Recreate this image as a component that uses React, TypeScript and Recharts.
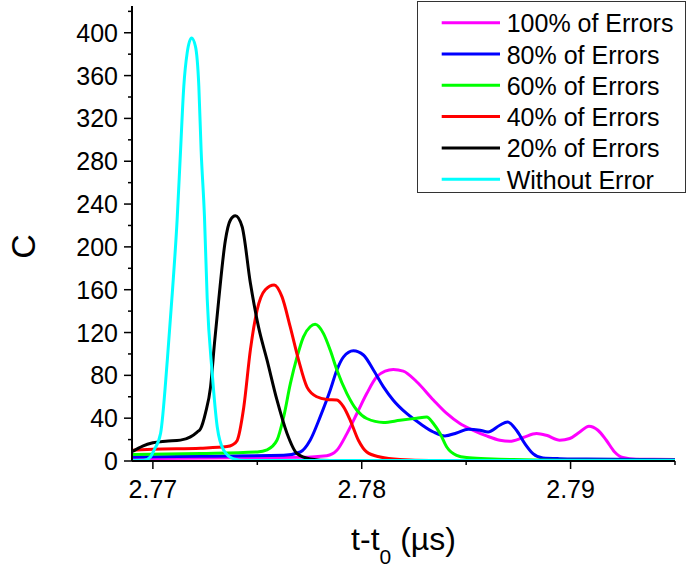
import React from 'react';
import { LineChart, Line, XAxis, YAxis, Legend } from 'recharts';

const FONT = '"Liberation Sans", Arial, Helvetica, sans-serif';

const seriesNames = ['100% of Errors', '80% of Errors', '60% of Errors', '40% of Errors', '20% of Errors', 'Without Error'];
const seriesColors = ['#FF00FF', '#0000FF', '#00FF00', '#FF0000', '#000000', '#00FFFF'];
const xTicks = [2.77, 2.775, 2.78, 2.785, 2.79, 2.795];
const yTicks = [0, 20, 40, 60, 80, 100, 120, 140, 160, 180, 200, 220, 240, 260, 280, 300, 320, 340, 360, 380, 400, 420];

const errors100: [number, number][] = [
  [2.76903, 2.2], [2.77706, 3.5], [2.77833, 5], [2.77881, 10], [2.77929, 25.6], [2.77977, 44.4],
  [2.78024, 63], [2.78072, 78.6], [2.78112, 84], [2.78151, 85.5], [2.78199, 84], [2.78263, 74],
  [2.78343, 57], [2.78407, 44.4], [2.7847, 35], [2.78534, 28.7], [2.78598, 23.4], [2.78661, 19.4],
  [2.78709, 18.4], [2.78773, 21.9], [2.78837, 25.6], [2.78884, 24], [2.78948, 19.4], [2.78996, 21],
  [2.79044, 27.1], [2.79088, 32.5], [2.79131, 28.7], [2.79171, 19.4], [2.79211, 8.4], [2.7925, 3.2],
  [2.79314, 1.6], [2.795, 1.5],
];

const errors80: [number, number][] = [
  [2.76903, 3.7], [2.77228, 4.5], [2.77626, 5.3], [2.77706, 8.4], [2.77753, 19.4], [2.77801, 41.2],
  [2.77849, 66], [2.77881, 85], [2.77913, 97.3], [2.7796, 103], [2.78008, 99], [2.78056, 85],
  [2.78104, 69.3], [2.78151, 56.8], [2.78215, 44.4], [2.78279, 35], [2.78343, 27.1], [2.78398, 23.4],
  [2.78454, 26.2], [2.7851, 29.7], [2.78566, 28.7], [2.78605, 27.1], [2.78661, 33.4], [2.78698, 36.5],
  [2.78741, 28.7], [2.78781, 16.3], [2.7882, 6.9], [2.78868, 2.8], [2.78948, 2.2], [2.79076, 1.9],
  [2.795, 1.2],
];

const errors60: [number, number][] = [
  [2.76903, 6], [2.77228, 7], [2.775, 8.5], [2.77547, 10.5], [2.77594, 19.4], [2.77626, 41],
  [2.77658, 72], [2.7769, 97], [2.77721, 116], [2.77753, 125.4], [2.77777, 127.7], [2.77817, 119],
  [2.77849, 103.6], [2.77881, 85], [2.77929, 63], [2.77977, 47.4], [2.78024, 39.7], [2.78104, 36],
  [2.78183, 38], [2.78263, 40], [2.78311, 41.2], [2.78343, 35], [2.78375, 25.6], [2.78407, 13.1],
  [2.78454, 5.3], [2.78502, 3.2], [2.78598, 2.2], [2.78725, 1.3], [2.78948, 0.8], [2.795, 0.7],
];

const errors40: [number, number][] = [
  [2.76903, 10], [2.77, 11], [2.77228, 12], [2.77355, 13.5], [2.7738, 15], [2.77403, 19],
  [2.77435, 50], [2.77467, 104], [2.77499, 141], [2.77538, 160], [2.77581, 164.5], [2.77618, 153.5],
  [2.77658, 125], [2.77698, 94], [2.77738, 69], [2.77785, 60], [2.77833, 57.5], [2.77881, 57],
  [2.77913, 50.5], [2.77945, 38], [2.77984, 19.4], [2.78024, 8.4], [2.78088, 3.7], [2.78183, 1.3],
  [2.78327, 0.5], [2.795, 0.5],
];

const errors20: [number, number][] = [
  [2.76903, 9], [2.76951, 14], [2.77, 17], [2.77061, 18.5], [2.77132, 19.5], [2.7718, 22.5],
  [2.77212, 27], [2.77228, 30], [2.77252, 45], [2.77276, 69], [2.77295, 110], [2.77315, 150],
  [2.77347, 206], [2.77371, 225], [2.77395, 229], [2.77427, 219], [2.77467, 166], [2.77506, 125],
  [2.77547, 94], [2.77594, 57], [2.77642, 26], [2.7769, 7], [2.77753, 2], [2.77849, 0.5], [2.795, 0.5],
];

const withoutError: [number, number][] = [
  [2.76903, 0.5], [2.76957, 0.6], [2.76989, 4], [2.77005, 10], [2.77037, 26], [2.77069, 94],
  [2.77093, 157], [2.77116, 225], [2.77132, 288], [2.77148, 350], [2.77164, 381], [2.77185, 395],
  [2.77204, 387], [2.7722, 350], [2.77231, 290], [2.77247, 228], [2.7726, 152], [2.77284, 82],
  [2.77308, 32], [2.77339, 10], [2.77387, 2], [2.77443, 0.5], [2.795, 0.5],
];

const seriesPoints = [errors100, errors80, errors60, errors40, errors20, withoutError];
const toRows = (pts: [number, number][]) => pts.map(([t, c]) => ({ t, c }));

const YTick = (props: any) => {
  const { x, y, payload } = props;
  const v = payload.value as number;
  const axisX = x + 8 + 6;
  const major = Math.round(v) % 40 === 0;
  return (
    <g>
      <line x1={axisX - (major ? 8 : 4)} x2={axisX} y1={y} y2={y} stroke="#000" strokeWidth={1.5} />
      {major && (
        <text x={x} y={y + 9} textAnchor="end" fontSize={25} fontFamily={FONT} fill="#000">
          {v}
        </text>
      )}
    </g>
  );
};

const XTick = (props: any) => {
  const { x, y, payload } = props;
  const v = payload.value as number;
  const axisY = y - 8 - 8;
  const major = Math.round(v * 1000) % 10 === 0;
  return (
    <g>
      <line x1={x} x2={x} y1={axisY} y2={axisY + (major ? 8 : 4)} stroke="#000" strokeWidth={1.5} />
      {major && (
        <text x={x} y={axisY + 36.5} textAnchor="middle" fontSize={25} fontFamily={FONT} fill="#000">
          {v.toFixed(2)}
        </text>
      )}
    </g>
  );
};

const YTitle = (props: any) => {
  const vb = props.viewBox || { x: 0, y: 6, width: 132, height: 455 };
  const cx = vb.x + 22.5;
  const cy = vb.y + vb.height / 2 + 13;
  return (
    <text x={cx} y={cy} dy="0.358em" textAnchor="middle" fontSize={34} fontFamily={FONT} fill="#000"
      transform={`rotate(-90 ${cx} ${cy})`}>
      C
    </text>
  );
};

const XTitle = (props: any) => {
  const vb = props.viewBox || { x: 132, y: 461, width: 543, height: 110 };
  const cx = vb.x + vb.width / 2;
  const by = vb.y + 89;
  return (
    <text x={cx} y={by} textAnchor="middle" fontSize={32} fontFamily={FONT} fill="#000">
      t-t<tspan fontSize={21} dy={14}>0</tspan><tspan dy={-14}>{' (µs)'}</tspan>
    </text>
  );
};

const LegendBox = () => (
  <svg width={269} height={192} style={{ display: 'block' }}>
    <rect x={0.5} y={0.5} width={268} height={191} fill="#fff" stroke="#333" strokeWidth={1} />
    {seriesNames.map((n, i) => {
      const cy = 21.7 + i * 31.3;
      return (
        <g key={n}>
          <line x1={24.7} x2={83} y1={cy} y2={cy} stroke={seriesColors[i]} strokeWidth={3} />
          <text x={89.7} y={cy + 9.5} fontSize={25} fontFamily={FONT} fill="#000">{n}</text>
        </g>
      );
    })}
  </svg>
);

export default function App() {
  return (
    <div style={{ position: 'absolute', left: 0, top: 0, width: 687, height: 571, background: '#fff' }}>
      <LineChart width={687} height={571} margin={{ top: 6, right: 12, left: 0, bottom: 0 }}>
        <XAxis
          type="number"
          dataKey="t"
          domain={[2.769, 2.795]}
          ticks={xTicks}
          interval={0}
          allowDataOverflow
          height={110}
          tickSize={8}
          tickMargin={8}
          tickLine={false}
          axisLine={{ stroke: '#000', strokeWidth: 2 }}
          tick={<XTick />}
          label={<XTitle />}
        />
        <YAxis
          type="number"
          dataKey="c"
          domain={[0, 425]}
          ticks={yTicks}
          interval={0}
          allowDataOverflow
          width={132}
          tickSize={8}
          tickMargin={6}
          tickLine={false}
          axisLine={{ stroke: '#000', strokeWidth: 2 }}
          tick={<YTick />}
          label={<YTitle />}
        />
        <Legend
          layout="horizontal"
          verticalAlign="middle"
          align="center"
          content={<LegendBox />}
          wrapperStyle={{ left: 417, top: 1, width: 269, height: 192 }}
        />
        {seriesPoints.map((pts, i) => (
          <Line
            key={seriesNames[i]}
            data={toRows(pts)}
            dataKey="c"
            name={seriesNames[i]}
            type="monotone"
            stroke={seriesColors[i]}
            strokeWidth={3}
            dot={false}
            activeDot={false}
            isAnimationActive={false}
          />
        ))}
      </LineChart>
    </div>
  );
}
